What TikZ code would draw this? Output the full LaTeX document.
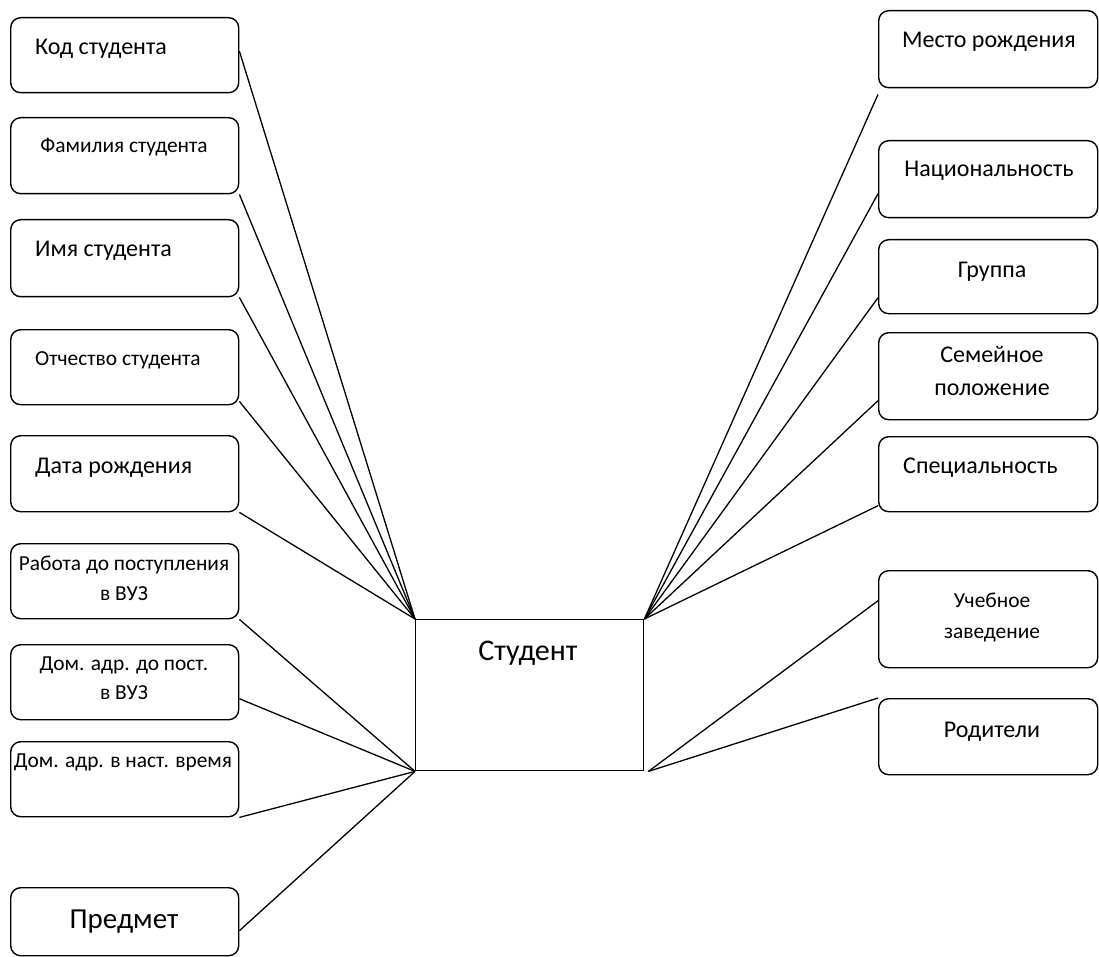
\documentclass[tikz,border=0pt]{standalone}
\usepackage{fontspec}
\setmainfont{Carlito}
\begin{document}
\begin{tikzpicture}[x=1pt,y=-1pt,
  box/.style={draw, line width=1.4pt, rounded corners=10pt, anchor=north west, inner sep=0pt},
  lbox/.style={box, minimum width=228},
  rbox/.style={box, minimum width=219},
  ent/.style={draw, line width=1.4pt, anchor=north west, inner sep=0pt, minimum width=228, minimum height=151},
  conn/.style={line width=1.3pt},
  txt/.style={inner sep=0pt, font=\fontsize{24}{28}\selectfont},
  stxt/.style={inner sep=0pt, font=\fontsize{21.4}{25}\selectfont},
  btxt/.style={inner sep=0pt, font=\fontsize{30}{35}\selectfont}
]
\useasboundingbox (0,0) rectangle (1099,957);

% left boxes
\node[lbox, minimum height=75] (L1) at (10,17) {};
\node[lbox, minimum height=76] (L2) at (10,117) {};
\node[lbox, minimum height=77] (L3) at (10,219) {};
\node[lbox, minimum height=75] (L4) at (10,329) {};
\node[lbox, minimum height=76] (L5) at (10,435) {};
\node[lbox, minimum height=75] (L6) at (10,543) {};
\node[lbox, minimum height=75] (L7) at (10,644) {};
\node[lbox, minimum height=75] (L8) at (10,741) {};
\node[lbox, minimum height=68] (L9) at (10,887) {};

% right boxes
\node[rbox, minimum height=77] (R1) at (878,10) {};
\node[rbox, minimum height=77] (R2) at (878,140) {};
\node[rbox, minimum height=74] (R3) at (878,239) {};
\node[rbox, minimum height=87] (R4) at (878,332) {};
\node[rbox, minimum height=75] (R5) at (878,436) {};
\node[rbox, minimum height=97] (R6) at (878,570) {};
\node[rbox, minimum height=76] (R7) at (878,698) {};

% entity
\node[ent] (S) at (415,619) {};

% texts
\node[txt, anchor=base west] (tL1) at (35,55) {Код студента};
\node[stxt, anchor=base] (tL2) at (124,153) {Фамилия студента};
\node[txt, anchor=base west] (tL3) at (35,257) {Имя студента};
\node[stxt, anchor=base west] (tL4) at (35,365) {Отчество студента};
\node[txt, anchor=base west] (tL5) at (35,473) {Дата рождения};
\node[stxt, anchor=base] (tL6a) at (124,570) {Работа до поступления};
\node[stxt, anchor=base] (tL6b) at (124,600) {в ВУЗ};
\node[stxt, anchor=base] (tL7a) at (124,670) {Дом. адр. до пост.};
\node[stxt, anchor=base] (tL7b) at (124,699) {в ВУЗ};
\node[stxt, anchor=base] (tL8) at (123,767) {Дом. адр. в наст. время};
\node[btxt, anchor=base, font=\fontsize{29}{34}\selectfont] (tL9) at (124,928) {Предмет};
\node[btxt, anchor=base] (tS) at (528,660) {Студент};
\node[txt, anchor=base] (tR1) at (989,48) {Место рождения};
\node[txt, anchor=base] (tR2) at (989,177) {Национальность};
\node[txt, anchor=base] (tR3) at (992,278) {Группа};
\node[txt, anchor=base] (tR4a) at (992,362) {Семейное};
\node[txt, anchor=base] (tR4b) at (992,395) {положение};
\node[txt, anchor=base west] (tR5) at (903,473) {Специальность};
\node[stxt, anchor=base] (tR6a) at (992,607) {Учебное};
\node[stxt, anchor=base] (tR6b) at (992,638) {заведение};
\node[txt, anchor=base] (tR7) at (992,737) {Родители};

% connectors left
\draw[conn] ([yshift=4pt]L1.east) -- (S.north west);
\draw[conn] (L2.south east) -- (S.north west);
\draw[conn] (L3.south east) -- (S.north west);
\draw[conn] ([yshift=4pt]L4.south east) -- (S.north west);
\draw[conn] (L5.south east) -- (S.north west);
\draw[conn] (L6.south east) -- (S.south west);
\draw[conn] ([yshift=-16.5pt]L7.east) -- (S.south west);
\draw[conn] (L8.south east) -- (S.south west);
\draw[conn] ([yshift=-9pt]L9.east) -- (S.south west);

% connectors right
\draw[conn] ([yshift=-6pt]R1.south west) -- (S.north east);
\draw[conn] ([yshift=-14.5pt]R2.west) -- (S.north east);
\draw[conn] ([yshift=-21pt]R3.west) -- (S.north east);
\draw[conn] ([yshift=-24.5pt]R4.west) -- (S.north east);
\draw[conn] ([yshift=-31.5pt]R5.west) -- (S.north east);
\draw[conn] ([yshift=18.5pt]R6.west) -- ([xshift=4pt]S.south east);
\draw[conn] (R7.north west) -- ([xshift=4pt]S.south east);
\end{tikzpicture}
\end{document}
